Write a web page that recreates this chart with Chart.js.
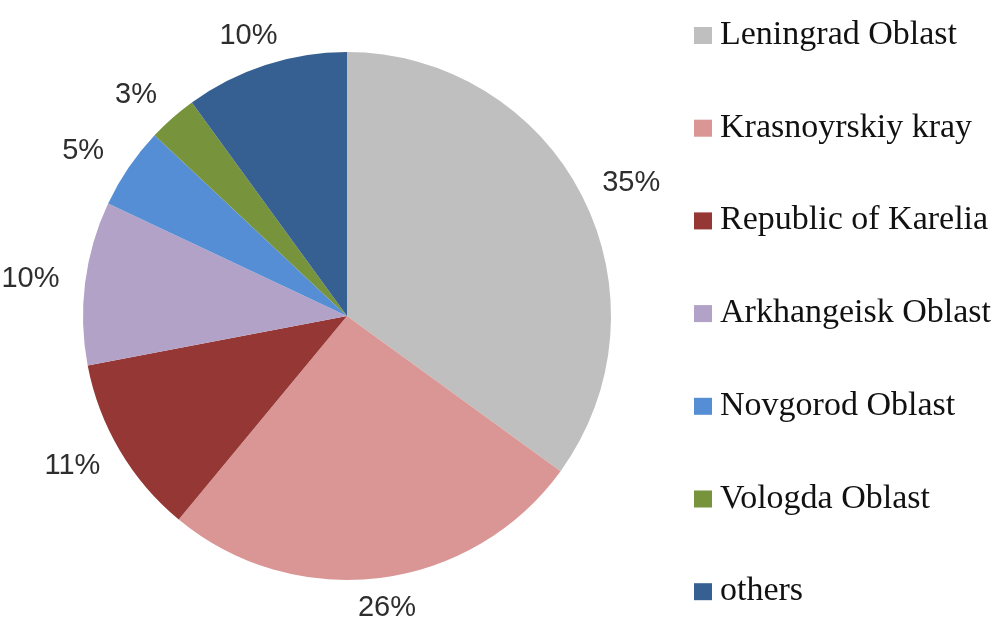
<!DOCTYPE html>
<html>
<head>
<meta charset="utf-8">
<script src="https://cdn.jsdelivr.net/npm/chart.js@4"></script>
<style>
  body { margin: 0; background: #fff; }
  #wrap { width: 996px; height: 626px; }
</style>
</head>
<body>
<div id="wrap"><canvas id="regionChart" width="996" height="626"></canvas></div>
<script>
// Регионы и их доли (%)
var regions = ["Leningrad Oblast", "Krasnoyrskiy kray", "Republic of Karelia", "Arkhangeisk Oblast", "Novgorod Oblast", "Vologda Oblast", "others"];
var shares = [35, 26, 11, 10, 5, 3, 10];
var sliceColors = ["#BFBFBF", "#D99694", "#953735", "#B3A2C7", "#558ED5", "#77933C", "#376092"];

// Подписи процентов снаружи круга
var outsideLabels = {
    id: 'outsideLabels',
    afterDatasetsDraw: function (chart) {
        var ctx = chart.ctx;
        var meta = chart.getDatasetMeta(0);
        ctx.save();
        ctx.font = '29px "Liberation Sans", Arial, sans-serif';
        ctx.fillStyle = '#2e2e2e';
        ctx.textAlign = 'center';
        ctx.textBaseline = 'middle';
        meta.data.forEach(function (arc, i) {
            var p = arc.getProps(['x', 'y', 'startAngle', 'endAngle', 'outerRadius'], true);
            var mid = (p.startAngle + p.endAngle) / 2;
            var lx = p.x + Math.cos(mid) * (p.outerRadius + 55);
            var ly = p.y + Math.sin(mid) * (p.outerRadius + 30);
            ctx.fillText(shares[i] + '%', lx, ly);
        });
        ctx.restore();
    }
};

// Легенда справа (квадраты + текст)
var sideLegend = {
    id: 'sideLegend',
    afterDraw: function (chart) {
        var ctx = chart.ctx;
        var x0 = 694, top0 = 27, step = 92.7, box = 17;
        ctx.save();
        ctx.font = '34px "Liberation Serif", "Times New Roman", serif';
        ctx.textAlign = 'left';
        ctx.textBaseline = 'alphabetic';
        regions.forEach(function (name, i) {
            var y = top0 + i * step;
            ctx.fillStyle = sliceColors[i];
            ctx.fillRect(x0, y, 18, box);
            ctx.fillStyle = '#111111';
            ctx.fillText(name, x0 + 26, y + box);
        });
        ctx.restore();
    }
};

var regionChart = new Chart(document.getElementById("regionChart").getContext("2d"), {
    type: 'pie',
    data: {
        labels: regions,
        datasets: [{
            data: shares,
            backgroundColor: sliceColors,
            borderWidth: 0,
            hoverOffset: 0
        }]
    },
    options: {
        responsive: false,
        animation: false,
        layout: {
            padding: { left: 83, right: 385, top: 52, bottom: 46 }
        },
        plugins: {
            legend: { display: false },
            tooltip: { enabled: false }
        }
    },
    plugins: [outsideLabels, sideLegend]
});
</script>
</body>
</html>
